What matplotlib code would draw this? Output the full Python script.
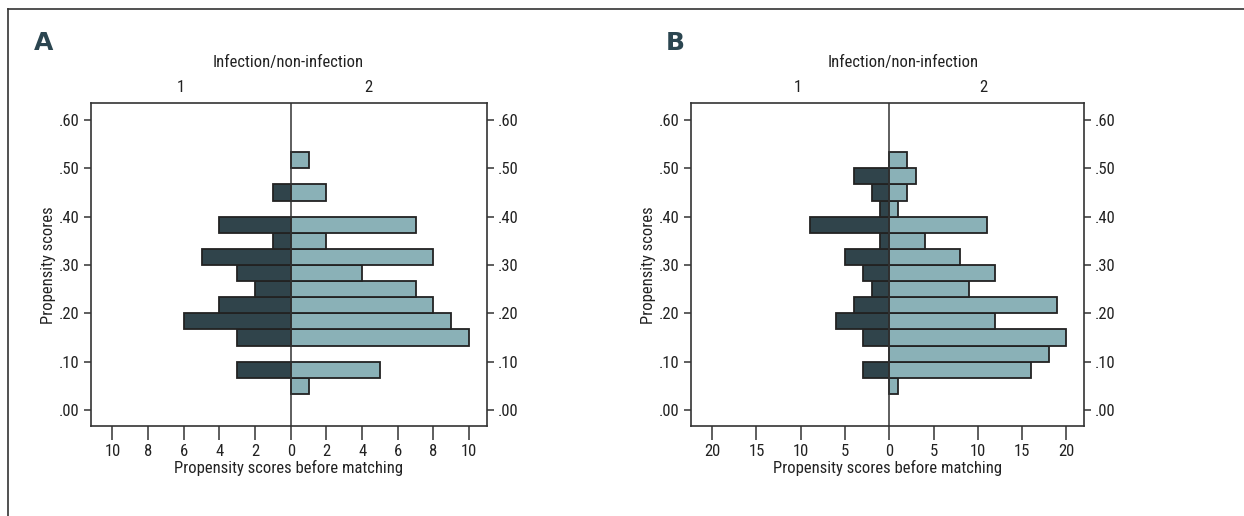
import numpy as np
import matplotlib
matplotlib.use("Agg")
import matplotlib.pyplot as plt
from matplotlib import font_manager

# Prefer a narrow sans face when one is installed
available = {f.name for f in font_manager.fontManager.ttflist}
families = [f for f in ["Liberation Sans Narrow", "DejaVu Sans Condensed", "Roboto Condensed",
                        "Open Sans Condensed", "Noto Sans", "DejaVu Sans"] if f in available]
plt.rcParams["font.family"] = families + ["DejaVu Sans"]

# Propensity-score bins (lower edges, width 1/30)
bin_width = 1 / 30
bin_lower = np.arange(1, 16) * bin_width

# Counts per bin: group 1 (infection) drawn to the left, group 2 to the right
a_group1 = [0, 3, 0, 3, 6, 4, 2, 3, 5, 1, 4, 0, 1, 0, 0]
a_group2 = [1, 5, 0, 10, 9, 8, 7, 4, 8, 2, 7, 0, 2, 0, 1]
b_group1 = [0, 3, 0, 3, 6, 4, 2, 3, 5, 1, 9, 1, 2, 4, 0]
b_group2 = [1, 16, 18, 20, 12, 19, 9, 12, 8, 4, 11, 1, 2, 3, 2]

a_xticks = [-10, -8, -6, -4, -2, 0, 2, 4, 6, 8, 10]
b_xticks = [-20, -15, -10, -5, 0, 5, 10, 15, 20]
yticks = [0.0, 0.1, 0.2, 0.3, 0.4, 0.5, 0.6]
ytick_labels = [".00", ".10", ".20", ".30", ".40", ".50", ".60"]

DARK = "#30444b"
LIGHT = "#8ab1b7"
EDGE = "#222222"
AXCOL = "#333333"
TXT = "#222222"
FS = 12

fig = plt.figure(figsize=(12.44, 5.16), dpi=100)

# Outer frame: top and left rules
fig.add_artist(plt.Line2D([8 / 1244, 1.0], [1 - 9 / 516, 1 - 9 / 516], color="#333333", lw=1.2))
fig.add_artist(plt.Line2D([8 / 1244, 8 / 1244], [0.0, 1 - 9 / 516], color="#333333", lw=1.2))


def pyramid(rect, g1, g2, xticks, xlim, letter, letter_x, lab1_x, lab2_x, title_x, ylab_x):
    ax = fig.add_axes(rect)
    g1 = np.asarray(g1, dtype=float)
    g2 = np.asarray(g2, dtype=float)
    m1 = g1 > 0
    m2 = g2 > 0
    ax.barh(bin_lower[m1], -g1[m1], height=bin_width, align="edge",
            color=DARK, edgecolor=EDGE, linewidth=1.3, zorder=2)
    ax.barh(bin_lower[m2], g2[m2], height=bin_width, align="edge",
            color=LIGHT, edgecolor=EDGE, linewidth=1.3, zorder=2)
    ax.axvline(0, color=AXCOL, lw=1.1, zorder=3)
    ax.set_xlim(*xlim)
    ax.set_ylim(-0.033, 0.635)
    ax.set_xticks(xticks)
    ax.set_xticklabels([str(abs(t)) for t in xticks])
    ax.set_yticks(yticks)
    ax.set_yticklabels(ytick_labels)
    ax.tick_params(axis="x", direction="out", length=10, width=1.1, color=AXCOL,
                   labelsize=FS, labelcolor=TXT, pad=3)
    ax.tick_params(axis="y", direction="out", length=5, width=1.1, color=AXCOL,
                   labelsize=FS, labelcolor=TXT, left=True, right=True,
                   labelleft=True, labelright=True, pad=3)
    for s in ax.spines.values():
        s.set_color(AXCOL)
        s.set_linewidth(1.2)
    ax.set_xlabel("Propensity scores before matching", fontsize=FS, color=TXT, labelpad=1)
    fig.text(ylab_x / 1244, 1 - 265 / 516, "Propensity scores", rotation=90,
             ha="center", va="center", fontsize=FS, color=TXT)
    fig.text(title_x / 1244, 1 - 62 / 516, "Infection/non-infection",
             ha="center", va="center", fontsize=FS, color=TXT)
    fig.text(lab1_x / 1244, 1 - 87 / 516, "1", ha="center", va="center", fontsize=FS, color=TXT)
    fig.text(lab2_x / 1244, 1 - 87 / 516, "2", ha="center", va="center", fontsize=FS, color=TXT)
    fig.text(letter_x / 1244, 1 - 43 / 516, letter, ha="left", va="center",
             fontsize=18, fontweight="bold", color="#2b4550", family="DejaVu Sans")
    return ax


pyramid([91 / 1244, 1 - 426 / 516, 396 / 1244, 323 / 516],
        a_group1, a_group2, a_xticks, (-11.2, 11.0), "A", 34, 181, 368, 288, 48)
pyramid([691 / 1244, 1 - 426 / 516, 393 / 1244, 323 / 516],
        b_group1, b_group2, b_xticks, (-22.4, 22.0), "B", 666, 798, 983, 903, 648)

fig.savefig("out.png", dpi=100)
